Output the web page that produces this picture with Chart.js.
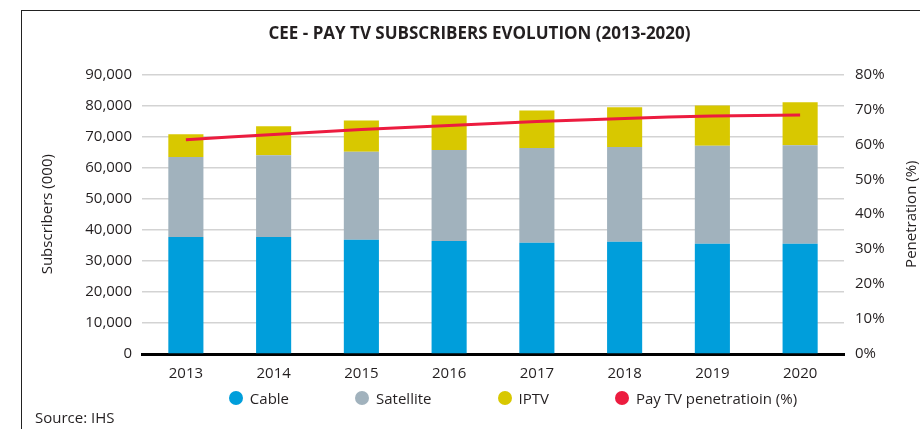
<!DOCTYPE html>
<html>
<head>
<meta charset="utf-8">
<script src="https://cdn.jsdelivr.net/npm/chart.js@4.4.1/dist/chart.umd.min.js"></script>
<style>
    body { margin: 0; background: #fff; font-family: "Open Sans", sans-serif; color: #231f20; }
    #wrap { position: relative; width: 920px; height: 429px; overflow: hidden; }
    #frame { position: absolute; left: 21px; top: 10px; width: 920px; height: 430px; border-top: 1.5px solid #222; border-left: 1.5px solid #222; }
    #chart { position: absolute; left: 0; top: 0; }
    #legend { position: absolute; left: 0; top: 388px; width: 920px; padding-left: 106px; box-sizing: border-box;
              display: flex; justify-content: center; gap: 66px; font-size: 15px; line-height: 20px; }
    #legend span.item { display: flex; align-items: center; }
    #legend span.dot { width: 14px; height: 14px; border-radius: 50%; margin-right: 7px; }
    #source { position: absolute; left: 35px; top: 407px; font-size: 15px; }
</style>
</head>
<body>
<div id="wrap">
    <div id="frame"></div>
    <canvas id="chart" width="920" height="429"></canvas>
    <div id="legend"></div>
    <div id="source">Source: IHS</div>
</div>
<script>
const years = ['2013', '2014', '2015', '2016', '2017', '2018', '2019', '2020'];
const cable = [37700, 37700, 36750, 36400, 35800, 36100, 35500, 35500];
const satellite = [25700, 26300, 28350, 29300, 30500, 30500, 31500, 31700];
const iptv = [7300, 9300, 10100, 11100, 12100, 12800, 13000, 13800];
const penetration = [61.3, 62.8, 64.2, 65.4, 66.5, 67.4, 68.1, 68.4];

const textColor = '#231f20';
const font = { family: 'Open Sans', size: 15 };

// right axis title reads bottom-to-top in the original, Chart.js would rotate it the other way
const rightTitle = {
    id: 'rightTitle',
    afterDraw(chart) {
        const { ctx, chartArea } = chart;
        ctx.save();
        ctx.translate(912, (chartArea.top + chartArea.bottom) / 2);
        ctx.rotate(-Math.PI / 2);
        ctx.font = '15px "Open Sans"';
        ctx.fillStyle = textColor;
        ctx.textAlign = 'center';
        ctx.textBaseline = 'middle';
        ctx.fillText('Penetration (%)', 0, 0);
        ctx.restore();
    }
};

const ctx = document.getElementById('chart').getContext('2d');
const chart = new Chart(ctx, {
    type: 'bar',
    data: {
        labels: years,
        datasets: [
            { label: 'Cable', data: cable, backgroundColor: '#009edb', stack: 's', order: 1 },
            { label: 'Satellite', data: satellite, backgroundColor: '#a1b2bd', stack: 's', order: 1 },
            { label: 'IPTV', data: iptv, backgroundColor: '#d8c800', stack: 's', order: 1 },
            {
                label: 'Pay TV penetratioin (%)',
                type: 'line',
                data: penetration,
                yAxisID: 'y1',
                borderColor: '#ec1c3f',
                backgroundColor: '#ec1c3f',
                borderWidth: 3,
                pointRadius: 0,
                tension: 0.3,
                order: 0
            }
        ]
    },
    options: {
        responsive: false,
        animation: false,
        barPercentage: 0.4,
        categoryPercentage: 1,
        layout: { padding: { top: 10, left: 39, right: 0, bottom: 45 } },
        plugins: {
            legend: { display: false },
            tooltip: { enabled: false },
            title: {
                display: true,
                text: 'CEE - PAY TV SUBSCRIBERS EVOLUTION (2013-2020)',
                color: textColor,
                font: { family: 'Open Sans', size: 17, weight: 'bold' },
                padding: { top: 14, bottom: 30 }
            }
        },
        scales: {
            x: {
                stacked: true,
                grid: { display: false },
                border: { color: '#000', width: 3 },
                ticks: { color: textColor, font: font, padding: 3 },
                afterFit: scale => { scale.height = 30; }
            },
            y: {
                stacked: true,
                min: 0,
                max: 90000,
                ticks: {
                    stepSize: 10000,
                    color: textColor,
                    font: font,
                    padding: 10,
                    callback: v => v.toLocaleString('en-US')
                },
                grid: { color: '#d3d3d3', lineWidth: 1.5, drawTicks: false },
                border: { display: false },
                title: { display: true, text: 'Subscribers (000)', color: textColor, font: font, padding: 0 },
                afterFit: scale => { scale.width = 103; }
            },
            y1: {
                position: 'right',
                min: 0,
                max: 80,
                ticks: { stepSize: 10, color: textColor, font: font, padding: 11, callback: v => v + '%' },
                grid: { display: false, drawTicks: false },
                border: { display: false },
                afterFit: scale => { scale.width = 76; }
            }
        }
    },
    plugins: [rightTitle]
});

// html legend built from the datasets
const legendEl = document.getElementById('legend');
chart.data.datasets.forEach(ds => {
    const item = document.createElement('span');
    item.className = 'item';
    const dot = document.createElement('span');
    dot.className = 'dot';
    dot.style.background = ds.backgroundColor;
    item.appendChild(dot);
    item.appendChild(document.createTextNode(ds.label));
    legendEl.appendChild(item);
});
</script>
</body>
</html>
